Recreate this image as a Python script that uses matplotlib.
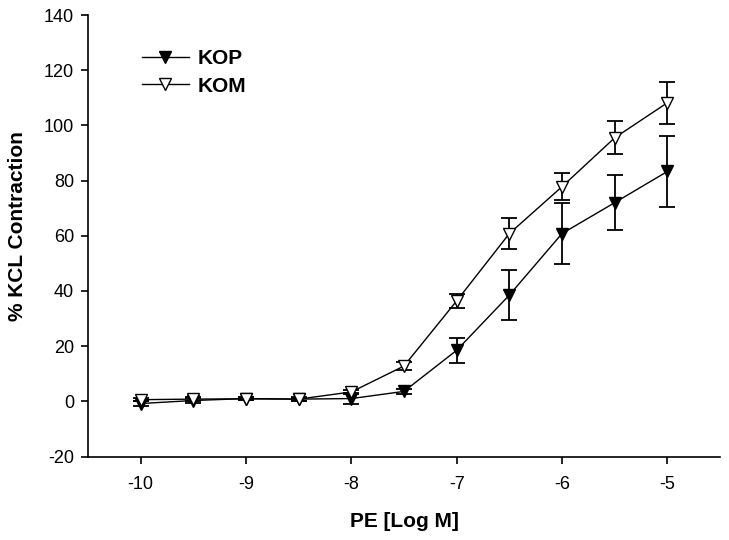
import matplotlib
matplotlib.use("Agg")
import matplotlib.pyplot as plt
from matplotlib.lines import Line2D

plt.rcParams['font.family'] = ['Liberation Sans', 'DejaVu Sans']

log_conc = [-10, -9.5, -9, -8.5, -8, -7.5, -7, -6.5, -6, -5.5, -5]
kop_mean = [-0.8, 0.3, 1.0, 0.8, 1.0, 3.6, 18.5, 38.5, 60.8, 72.0, 83.3]
kop_err = [1.0, 0.8, 0.6, 0.6, 2.0, 1.0, 4.5, 9.0, 11.0, 10.0, 12.7]
kom_mean = [0.6, 0.8, 0.9, 0.8, 3.4, 12.8, 36.4, 60.8, 77.8, 95.5, 108.2]
kom_err = [0.6, 0.6, 0.5, 0.5, 0.8, 1.5, 2.4, 5.7, 5.0, 6.0, 7.6]

yticks = list(range(-20, 141, 20))
xticks = [-10, -9, -8, -7, -6, -5]

fig = plt.figure(figsize=(7.29, 5.40), dpi=100)
ax = fig.add_axes([0.1207, 0.1546, 0.867, 0.8176])

ax.errorbar(log_conc, kop_mean, yerr=kop_err, color='black', lw=1.0,
            marker='v', ms=9, mfc='black', mec='black', capsize=6,
            elinewidth=1.3, capthick=1.3, zorder=3)
ax.errorbar(log_conc, kom_mean, yerr=kom_err, color='black', lw=1.0,
            marker='v', ms=9, mfc='white', mec='black', capsize=6,
            elinewidth=1.3, capthick=1.3, zorder=4)

ax.set_xlim(-10.5, -4.5)
ax.set_ylim(-20, 140)
ax.set_xticks(xticks)
ax.set_yticks(yticks)
ax.set_xticklabels([str(t) for t in xticks])
ax.set_yticklabels([str(t) for t in yticks])
ax.tick_params(direction='out', length=5, width=1.2, labelsize=13)
ax.tick_params(axis='x', pad=9)
ax.tick_params(axis='y', pad=5)
for s in ['top', 'right']:
    ax.spines[s].set_visible(False)
for s in ['left', 'bottom']:
    ax.spines[s].set_linewidth(1.2)

ax.set_xlabel('PE [Log M]', fontsize=15, fontweight='bold', va='center')
ax.set_ylabel('% KCL Contraction', fontsize=15, fontweight='bold', va='center')
ax.xaxis.set_label_coords(0.5, -0.148)
ax.yaxis.set_label_coords(-0.112, 0.522)

handles = [
    Line2D([0], [0], color='black', lw=1.0, marker='v', ms=9, mfc='black', mec='black'),
    Line2D([0], [0], color='black', lw=1.0, marker='v', ms=9, mfc='white', mec='black'),
]
leg = ax.legend(handles, ['KOP', 'KOM'], loc='upper left', bbox_to_anchor=(0.055, 0.965),
                frameon=False, prop={'size': 15, 'weight': 'bold'},
                handlelength=2.3, handletextpad=0.4, labelspacing=0.4)

fig.savefig('out.png', dpi=100)
